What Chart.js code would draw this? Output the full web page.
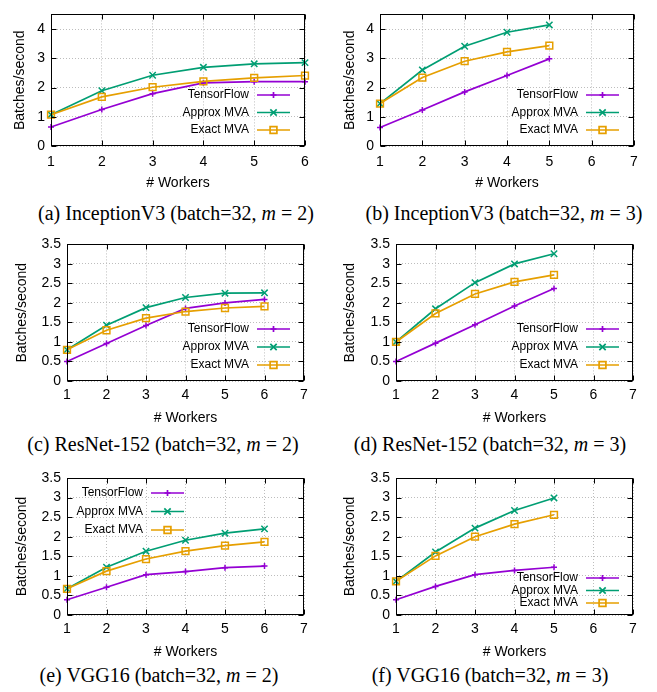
<!DOCTYPE html>
<html>
<head>
<meta charset="utf-8">
<script src="https://cdn.jsdelivr.net/npm/chart.js@4.4.0/dist/chart.umd.min.js"></script>
<style>
  body { margin: 0; background: #fff; width: 657px; height: 692px; position: relative; overflow: hidden; }
  canvas { position: absolute; }
  .cap { position: absolute; font-family: 'Liberation Serif', 'Times New Roman', serif; font-size: 20px;
         white-space: nowrap; transform: translate(-50%, -50%); color: #000; }
</style>
</head>
<body>
<script>
// x values (# workers)
const workers6 = [1, 2, 3, 4, 5, 6];
const workers5 = [1, 2, 3, 4, 5];
const seriesNames = ['TensorFlow', 'Approx MVA', 'Exact MVA'];

// tick values
const yTicksWhole = [0, 1, 2, 3, 4];
const yTicksHalf = [0, 0.5, 1, 1.5, 2, 2.5, 3, 3.5];

// batches/second
const inceptionM2_tf     = [0.65, 1.25, 1.79, 2.16, 2.20, 2.20];
const inceptionM2_approx = [1.07, 1.89, 2.42, 2.69, 2.81, 2.85];
const inceptionM2_exact  = [1.07, 1.68, 2.01, 2.21, 2.33, 2.41];

const inceptionM3_tf     = [0.63, 1.23, 1.85, 2.41, 2.98];
const inceptionM3_approx = [1.45, 2.60, 3.41, 3.89, 4.14];
const inceptionM3_exact  = [1.45, 2.34, 2.90, 3.22, 3.43];

const resnetM2_tf     = [0.50, 0.96, 1.42, 1.86, 2.00, 2.09];
const resnetM2_approx = [0.80, 1.43, 1.88, 2.14, 2.25, 2.26];
const resnetM2_exact  = [0.80, 1.30, 1.61, 1.78, 1.87, 1.91];

const resnetM3_tf     = [0.50, 0.97, 1.44, 1.92, 2.37];
const resnetM3_approx = [1.00, 1.85, 2.52, 3.00, 3.26];
const resnetM3_exact  = [1.00, 1.73, 2.23, 2.54, 2.72];

const vggM2_tf     = [0.39, 0.71, 1.03, 1.11, 1.21, 1.25];
const vggM2_approx = [0.67, 1.22, 1.63, 1.91, 2.09, 2.20];
const vggM2_exact  = [0.67, 1.12, 1.43, 1.63, 1.77, 1.87];

const vggM3_tf     = [0.39, 0.73, 1.03, 1.14, 1.22];
const vggM3_approx = [0.86, 1.61, 2.22, 2.67, 2.99];
const vggM3_exact  = [0.86, 1.51, 2.00, 2.32, 2.56];

const captions = [
  '(a) InceptionV3 (batch=32, <i>m</i> = 2)',
  '(b) InceptionV3 (batch=32, <i>m</i> = 3)',
  '(c) ResNet-152 (batch=32, <i>m</i> = 2)',
  '(d) ResNet-152 (batch=32, <i>m</i> = 3)',
  '(e) VGG16 (batch=32, <i>m</i> = 2)',
  '(f) VGG16 (batch=32, <i>m</i> = 3)'
];

// series styles (gnuplot default colours)
const styles = [
  { color: '#9400d3', pointStyle: 'cross',    radius: 3 },
  { color: '#009e73', pointStyle: 'crossRot', radius: 4.5 },
  { color: '#e69f00', pointStyle: 'rect',     radius: 4.8 }
];

// layout of each panel: canvas origin, plot box [left, right, top, bottom], legend placement
const panels = [
  { cx: 0,   cy: 0,   w: 327, box: [51, 305, 9, 146],    xs: workers6, xMax: 6, yMax: 4.5, yTicks: yTicksWhole,
    series: [inceptionM2_tf, inceptionM2_approx, inceptionM2_exact],
    legend: { corner: 'br', dx: -56, dy: -16, gap: 17.5 }, xPad: 8, yTitle: 20, cap: [176, 213] },
  { cx: 327, cy: 0,   w: 330, box: [380, 634, 9, 146],   xs: workers5, xMax: 7, yMax: 4.5, yTicks: yTicksWhole,
    series: [inceptionM3_tf, inceptionM3_approx, inceptionM3_exact],
    legend: { corner: 'br', dx: -56, dy: -16, gap: 17.5 }, xPad: 8, yTitle: 350, cap: [504, 213] },
  { cx: 0,   cy: 230, w: 327, box: [67, 304, 244, 381],  xs: workers6, xMax: 7, yMax: 3.5, yTicks: yTicksHalf,
    series: [resnetM2_tf, resnetM2_approx, resnetM2_exact],
    legend: { corner: 'br', dx: -55, dy: -16, gap: 18 }, xPad: 6, yTitle: 22, cap: [163, 444] },
  { cx: 327, cy: 230, w: 330, box: [396, 633, 244, 381], xs: workers5, xMax: 7, yMax: 3.5, yTicks: yTicksHalf,
    series: [resnetM3_tf, resnetM3_approx, resnetM3_exact],
    legend: { corner: 'br', dx: -55, dy: -16, gap: 18 }, xPad: 6, yTitle: 350, cap: [490, 444] },
  { cx: 0,   cy: 460, w: 327, box: [67, 304, 478, 615],  xs: workers6, xMax: 7, yMax: 3.5, yTicks: yTicksHalf,
    series: [vggM2_tf, vggM2_approx, vggM2_exact],
    legend: { corner: 'tl', dx: 76, dy: 15, gap: 18.5 }, xPad: 6, yTitle: 22, cap: [159, 675] },
  { cx: 327, cy: 460, w: 330, box: [396, 633, 478, 615], xs: workers5, xMax: 7, yMax: 3.5, yTicks: yTicksHalf,
    series: [vggM3_tf, vggM3_approx, vggM3_exact],
    legend: { corner: 'br', dx: -55, dy: -12, gap: 12.5 }, xPad: 6, yTitle: 350, cap: [490, 675] }
];

const FONT = "'Liberation Sans', Arial, sans-serif";

// gnuplot-like frame with inward ticks on all four sides
const gpFrame = {
  id: 'gpFrame',
  afterDatasetsDraw(chart) {
    const { ctx, chartArea: a, scales: { x, y } } = chart;
    ctx.save();
    ctx.strokeStyle = '#000';
    ctx.lineWidth = 1;
    const L = Math.round(a.left) + 0.5, R = Math.round(a.right) - 0.5;
    const T = Math.round(a.top) + 0.5, B = Math.round(a.bottom) - 0.5;
    ctx.strokeRect(L, T, R - L, B - T);
    ctx.beginPath();
    x.ticks.forEach(t => {
      const px = Math.round(x.getPixelForValue(t.value)) + 0.5;
      ctx.moveTo(px, B); ctx.lineTo(px, B - 5);
      ctx.moveTo(px, T); ctx.lineTo(px, T + 5);
    });
    y.ticks.forEach(t => {
      const py = Math.round(y.getPixelForValue(t.value)) + 0.5;
      ctx.moveTo(L, py); ctx.lineTo(L + 5, py);
      ctx.moveTo(R, py); ctx.lineTo(R - 5, py);
    });
    ctx.stroke();
    ctx.restore();
  }
};

// legend: right-aligned labels followed by a line sample with the marker
const gpLegend = {
  id: 'gpLegend',
  afterDraw(chart, args, opts) {
    const { ctx, chartArea: a } = chart;
    const sets = chart.data.datasets;
    const n = sets.length;
    const tx = opts.corner === 'tl' ? a.left + opts.dx : a.right + opts.dx;
    ctx.save();
    ctx.font = '12px ' + FONT;
    ctx.textAlign = 'right';
    ctx.textBaseline = 'middle';
    sets.forEach((ds, i) => {
      const yy = opts.corner === 'tl' ? a.top + opts.dy + i * opts.gap
                                      : a.bottom + opts.dy - (n - 1 - i) * opts.gap;
      ctx.fillStyle = '#000';
      ctx.fillText(ds.label, tx, yy);
      ctx.strokeStyle = ds.borderColor;
      ctx.lineWidth = ds.borderWidth;
      ctx.beginPath();
      ctx.moveTo(tx + 8, yy); ctx.lineTo(tx + 41, yy);
      ctx.stroke();
      ctx.fillStyle = 'rgba(0,0,0,0)';
      Chart.helpers.drawPoint(ctx, { pointStyle: ds.pointStyle, radius: ds.pointRadius,
        borderWidth: ds.pointBorderWidth, rotation: 0 }, tx + 24.5, yy);
    });
    ctx.restore();
  }
};

panels.forEach((p, k) => {
  const [L, R, T, B] = p.box;
  const h = B - p.cy + 46;
  const cv = document.createElement('canvas');
  cv.width = p.w; cv.height = h;
  cv.style.left = p.cx + 'px'; cv.style.top = p.cy + 'px';
  cv.style.width = p.w + 'px'; cv.style.height = h + 'px';
  document.body.appendChild(cv);

  const datasets = p.series.map((vals, i) => ({
    label: seriesNames[i],
    data: p.xs.map((xv, j) => ({ x: xv, y: vals[j] })),
    borderColor: styles[i].color,
    backgroundColor: 'rgba(0,0,0,0)',
    pointBackgroundColor: 'rgba(0,0,0,0)',
    pointBorderColor: styles[i].color,
    pointStyle: styles[i].pointStyle,
    pointRadius: styles[i].radius,
    pointBorderWidth: 1.5,
    borderWidth: 1.7,
    tension: 0,
    clip: false,
    order: 3 - i
  }));

  new Chart(cv, {
    type: 'line',
    data: { datasets },
    options: {
      responsive: false,
      animation: false,
      devicePixelRatio: 1,
      layout: { padding: { left: 0, right: p.cx + p.w - R, top: T - p.cy, bottom: 0 } },
      plugins: {
        legend: { display: false },
        tooltip: { enabled: false },
        gpLegend: p.legend
      },
      scales: {
        x: {
          type: 'linear', min: 1, max: p.xMax,
          ticks: { stepSize: 1, autoSkip: false, color: '#000', padding: p.xPad,
                   font: { family: FONT, size: 14 }, maxRotation: 0, callback: v => String(v) },
          grid: { color: '#bdbdbd', lineWidth: 1, drawTicks: false },
          border: { display: false, dash: [1, 2] },
          title: { display: true, text: '# Workers', color: '#000', font: { family: FONT, size: 14 },
                   padding: { top: 0, bottom: 0.6 } },
          afterFit: s => { s.height = h - (B - p.cy); }
        },
        y: {
          type: 'linear', min: 0, max: p.yMax,
          ticks: { autoSkip: false, color: '#000', padding: 6,
                   font: { family: FONT, size: 14 }, callback: v => String(v) },
          afterBuildTicks: s => { s.ticks = p.yTicks.map(v => ({ value: v })); },
          grid: { color: '#bdbdbd', lineWidth: 1, drawTicks: false },
          border: { display: false, dash: [1, 2] },
          title: { display: true, text: 'Batches/second', color: '#000', font: { family: FONT, size: 14 },
                   padding: { top: p.yTitle - p.cx - 8.4, bottom: 0 } },
          afterFit: s => { s.width = L - p.cx; }
        }
      }
    },
    plugins: [gpFrame, gpLegend]
  });

  const cap = document.createElement('div');
  cap.className = 'cap';
  cap.innerHTML = captions[k];
  cap.style.left = p.cap[0] + 'px';
  cap.style.top = p.cap[1] + 'px';
  document.body.appendChild(cap);
});
</script>
</body>
</html>
